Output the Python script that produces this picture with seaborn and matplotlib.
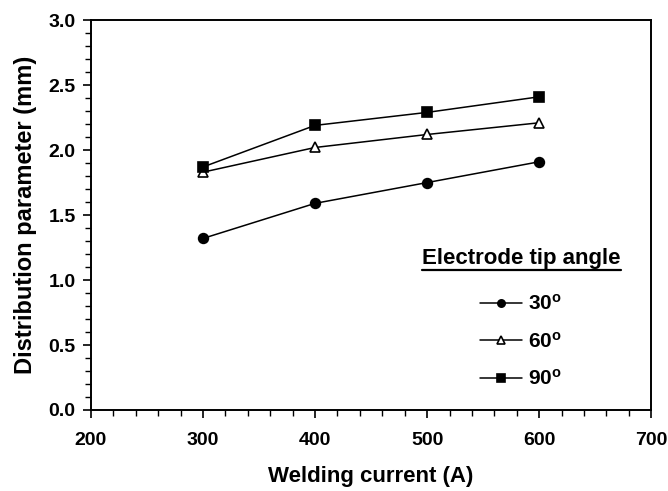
import matplotlib
matplotlib.use("Agg")
import matplotlib.pyplot as plt
from matplotlib.ticker import MultipleLocator, FormatStrFormatter
from matplotlib.lines import Line2D
import seaborn as sns
import pandas as pd

# values
current = [300, 400, 500, 600]
angle_30 = [1.32, 1.59, 1.75, 1.91]
angle_60 = [1.83, 2.02, 2.12, 2.21]
angle_90 = [1.87, 2.19, 2.29, 2.41]
labels = ["30", "60", "90"]

sns.set_theme(style="ticks")
plt.rcParams["font.family"] = ["Liberation Sans", "DejaVu Sans"]
plt.rcParams["font.weight"] = "bold"
plt.rcParams["text.color"] = "black"
plt.rcParams["axes.labelcolor"] = "black"
plt.rcParams["xtick.color"] = "black"
plt.rcParams["ytick.color"] = "black"
plt.rcParams["mathtext.fontset"] = "custom"
plt.rcParams["mathtext.rm"] = "Liberation Sans:bold"
plt.rcParams["mathtext.bf"] = "Liberation Sans:bold"
plt.rcParams["mathtext.it"] = "Liberation Sans:bold"

fig = plt.figure(figsize=(6.68, 4.91), dpi=100)
ax = fig.add_axes([0.136, 0.165, 0.839, 0.794])

#each series gets its own marker, all in black
styles = [
    dict(marker="o", markerfacecolor="black"),
    dict(marker="^", markerfacecolor="white"),
    dict(marker="s", markerfacecolor="black"),
]
for vals, lab, st in zip([angle_30, angle_60, angle_90], labels, styles):
    df = pd.DataFrame({"current": current, "dp": vals})
    sns.lineplot(data=df, x="current", y="dp", ax=ax, color="black", linewidth=1.1,
                 markeredgecolor="black", markersize=7, markeredgewidth=1.2,
                 label=lab + r"$^{\mathbf{o}}$", **st)

ax.set_xlim(200, 700)
ax.set_ylim(0, 3.0)
ax.xaxis.set_major_locator(MultipleLocator(100))
ax.xaxis.set_minor_locator(MultipleLocator(20))
ax.yaxis.set_major_locator(MultipleLocator(0.5))
ax.yaxis.set_minor_locator(MultipleLocator(0.1))
ax.yaxis.set_major_formatter(FormatStrFormatter("%.1f"))
ax.tick_params(which="major", direction="out", length=6, width=1.2, labelsize=14,
               top=False, right=False)
ax.tick_params(axis="x", which="major", pad=10)
ax.tick_params(axis="y", which="major", pad=5)
ax.tick_params(which="minor", direction="out", length=4, width=1.0, top=False, right=False)
for s in ax.spines.values():
    s.set_linewidth(1.4)
    s.set_color("black")
    s.set_visible(True)

ax.set_xlabel("Welding current (A)", fontsize=16, fontweight="bold", labelpad=12)
ax.set_ylabel("Distribution parameter (mm)", fontsize=17, fontweight="bold", labelpad=8)

leg = ax.legend(title="Electrode tip angle", loc="upper center",
                bbox_to_anchor=(0.768, 0.464), frameon=False, fontsize=15,
                title_fontsize=16, handlelength=2.0, labelspacing=0.84, handletextpad=0.3,
                markerscale=0.75)
leg.get_title().set_fontweight("bold")
leg._legend_box.sep = 18

# underline the legend title (no underline in mathtext)
fig.canvas.draw()
bb = leg.get_title().get_window_extent().transformed(fig.transFigure.inverted())
fig.add_artist(Line2D([bb.x0, bb.x1], [bb.y0 - 0.002, bb.y0 - 0.002],
                      transform=fig.transFigure, color="black", linewidth=1.6))

fig.savefig("out.png", dpi=100)
